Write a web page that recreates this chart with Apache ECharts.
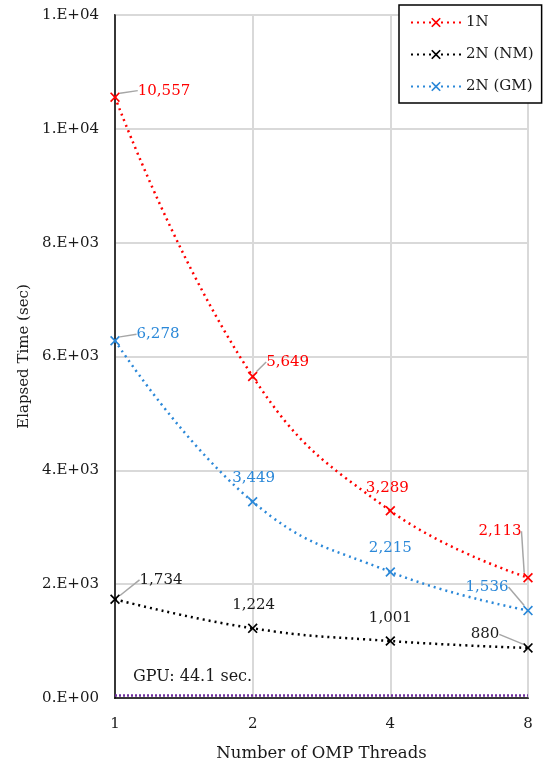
<!DOCTYPE html>
<html><head><meta charset="utf-8">
<script src="https://cdn.jsdelivr.net/npm/echarts@6/dist/echarts.min.js"></script>
<style>html,body{margin:0;padding:0;background:#fff}#c{width:543px;height:767px}</style>
</head><body><div id="c"></div>
<script>
const categories = ['1', '2', '4', '8'];
const series1N = [10557, 5649, 3289, 2113];
const series2NNM = [1734, 1224, 1001, 880];
const series2NGM = [6278, 3449, 2215, 1536];
const gpuTime = [44.1, 44.1, 44.1, 44.1];
const gpuNote = 'GPU: 44.1 sec.';
const yTickLabels = ['0.E+00', '2.E+03', '4.E+03', '6.E+03', '8.E+03', '1.E+04', '1.E+04'];

const FONT = 'DejaVu Serif';
const TXT = '#1a1a1a';
const X_PATH = 'path://M0,1.2 L1.2,0 L5,3.8 L8.8,0 L10,1.2 L6.2,5 L10,8.8 L8.8,10 L5,6.2 L1.2,10 L0,8.8 L3.8,5 Z';

// label displacement (dx, dy) and callout flags per series/point
const labelShift = [
  [[49, 11], [35, 3], [-3, -5], [-28, -29]],
  [[46, -2], [1, -6], [0, -5], [-43, 4]],
  [[43, 11], [1, -6], [0, -6], [-41, -6]]
];
const callout = [
  [true, true, false, true],
  [true, false, false, true],
  [true, false, false, true]
];

function build(vals, si) {
  return vals.map((v, i) => ({ value: v, labelLine: { show: callout[si][i] } }));
}

function mkSeries(name, vals, color, si) {
  return {
    name: name, type: 'line', smooth: 0.45, data: build(vals, si),
    symbol: X_PATH, symbolSize: 10,
    itemStyle: { color: color },
    lineStyle: { color: color, width: 2.5, type: [2, 4] },
    label: {
      show: true, position: 'top', color: color === '#000000' ? TXT : color,
      fontFamily: FONT, fontSize: 15,
      formatter: p => p.value.toLocaleString('en-US')
    },
    labelLine: { show: true, lineStyle: { color: '#a6a6a6', width: 1.5 } },
    labelLayout: p => ({ dx: labelShift[si][p.dataIndex][0], dy: labelShift[si][p.dataIndex][1] }),
    z: 3 + si
  };
}

const chart = echarts.init(document.getElementById('c'), null, { renderer: 'canvas' });
chart.setOption({
  animation: false,
  backgroundColor: '#fff',
  grid: { left: 115, right: 15, top: 15, bottom: 65, show: true, borderColor: '#000', borderWidth: 1.5, backgroundColor: 'transparent' },
  legend: {
    orient: 'vertical', left: 399, top: 5, padding: [10, 8, 9, 11], itemGap: 17,
    itemWidth: 50, itemHeight: 12,
    backgroundColor: '#fff', borderColor: '#000', borderWidth: 1.5,
    textStyle: { fontFamily: FONT, fontSize: 15, color: TXT },
    data: ['1N', '2N (NM)', '2N (GM)']
  },
  xAxis: {
    type: 'category', data: categories, boundaryGap: false,
    name: 'Number of OMP Threads', nameLocation: 'middle', nameGap: 47,
    nameTextStyle: { fontFamily: FONT, fontSize: 16.5, color: TXT },
    axisLine: { lineStyle: { color: '#000', width: 1.5 } },
    axisTick: { show: false },
    axisLabel: { fontFamily: FONT, fontSize: 15, color: TXT, margin: 19 },
    splitLine: { show: true, lineStyle: { color: '#d9d9d9', width: 2 } }
  },
  yAxis: {
    type: 'value', min: 0, max: 12000, interval: 2000,
    name: 'Elapsed Time (sec)', nameLocation: 'middle', nameGap: 76,
    nameTextStyle: { fontFamily: FONT, fontSize: 15, color: TXT },
    axisLine: { show: true, lineStyle: { color: '#000', width: 1.5 } },
    axisTick: { show: false },
    axisLabel: { fontFamily: FONT, fontSize: 15, color: TXT, margin: 16,
      formatter: v => yTickLabels[Math.round(v / 2000)] },
    splitLine: { show: true, lineStyle: { color: '#d9d9d9', width: 2 } }
  },
  series: [
    mkSeries('1N', series1N, '#ff0000', 0),
    mkSeries('2N (NM)', series2NNM, '#000000', 1),
    mkSeries('2N (GM)', series2NGM, '#2b88d8', 2),
    {
      name: 'GPU', type: 'line', symbol: 'circle', symbolSize: 0.1,
      data: gpuTime.map((v, i) => i === 0 ? {
        value: v,
        label: { show: true, formatter: gpuNote, position: 'right', distance: 0, offset: [18, -19],
          fontFamily: FONT, fontSize: 16, color: TXT }
      } : v),
      itemStyle: { color: '#7030a0' },
      lineStyle: { color: '#7030a0', width: 2.5, type: [2, 2] },
      label: { show: false },
      z: 2
    }
  ]
});
</script></body></html>
